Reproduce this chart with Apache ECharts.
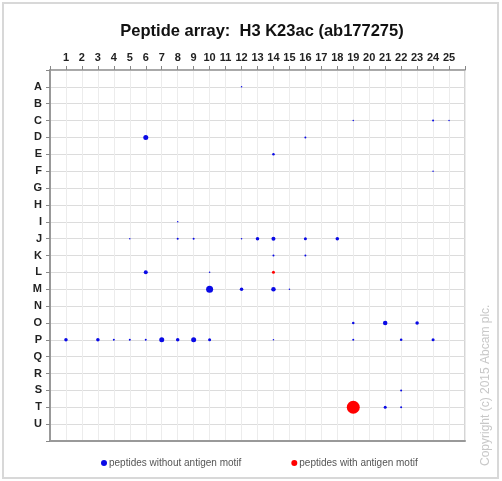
<!DOCTYPE html>
<html>
<head>
<meta charset="utf-8">
<script src="https://cdn.jsdelivr.net/npm/echarts@6/dist/echarts.min.js"></script>
<style>
  html, body { margin: 0; padding: 0; background: #fff; }
  #chart { width: 502px; height: 481px; }
</style>
</head>
<body>
<div id="chart"></div>
<script>
// rows of the array (A on top)
const rowLabels = ['A','B','C','D','E','F','G','H','I','J','K','L','M','N','O','P','Q','R','S','T','U'];
// columns 1..25
const colLabels = ['1','2','3','4','5','6','7','8','9','10','11','12','13','14','15','16','17','18','19','20','21','22','23','24','25'];

// [column, row, signal] - peptides without antigen motif
const withoutMotif = [
  [12,'A',1.5],
  [19,'C',1.5], [24,'C',2], [25,'C',1.5],
  [6,'D',5], [16,'D',2],
  [14,'E',2.5],
  [24,'F',1.5],
  [8,'I',1.5],
  [5,'J',1.5], [8,'J',2], [9,'J',2], [12,'J',1.5], [13,'J',3.5], [14,'J',4], [16,'J',3], [18,'J',3.5],
  [14,'K',2], [16,'K',2],
  [6,'L',4], [10,'L',1.5],
  [10,'M',7], [12,'M',3.5], [14,'M',4.5], [15,'M',1.5],
  [19,'O',2.5], [21,'O',4.5], [23,'O',3.5],
  [1,'P',3.5], [3,'P',3.5], [4,'P',2], [5,'P',2], [6,'P',2], [7,'P',5], [8,'P',3.5], [9,'P',5], [10,'P',3], [14,'P',1.5],
  [19,'P',2], [22,'P',2.5], [24,'P',3],
  [22,'S',2],
  [21,'T',3], [22,'T',2]
];
// [column, row, signal] - peptides with antigen motif
const withMotif = [
  [14,'L',3],
  [19,'T',13]
];

function toPoint(p) {
  return [p[0], rowLabels.indexOf(p[1]) + 1, p[2]];
}

const chart = echarts.init(document.getElementById('chart'));
chart.setOption({
  animation: false,
  backgroundColor: '#fff',
  title: {
    text: 'Peptide array:  H3 K23ac (ab177275)',
    left: 257,
    textAlign: 'center',
    top: 18,
    textStyle: {
      fontFamily: 'Liberation Sans',
      fontSize: 16.5,
      fontWeight: 'bold',
      color: '#111'
    }
  },
  legend: {
    left: 96,
    top: 453,
    itemGap: 50,
    itemWidth: 6,
    itemHeight: 6,
    icon: 'circle',
    textStyle: { fontFamily: 'Liberation Sans', fontSize: 10, color: '#555', padding: [0, 0, 0, -3] },
    data: ['peptides without antigen motif', 'peptides with antigen motif']
  },
  grid: {
    left: 50,
    top: 70,
    right: 37,
    bottom: 40,
    show: true,
    borderColor: '#aaa',
    borderWidth: 1
  },
  xAxis: [
    {
      type: 'value',
      position: 'top',
      min: 0,
      max: 26,
      interval: 1,
      axisLine: { show: true, lineStyle: { color: '#999', width: 1.5 } },
      axisTick: { show: true, length: 4, lineStyle: { color: '#888' } },
      axisLabel: {
        margin: 7,
        fontFamily: 'Liberation Sans',
        fontSize: 11,
        fontWeight: 'bold',
        color: '#222',
        formatter: v => (v >= 1 && v <= 25 ? colLabels[v - 1] : '')
      },
      splitLine: { show: true, lineStyle: { color: '#ececec' } }
    },
    {
      type: 'value',
      position: 'bottom',
      min: 0,
      max: 26,
      axisLine: { show: true, lineStyle: { color: '#999', width: 2 } },
      axisTick: { show: false },
      axisLabel: { show: false },
      splitLine: { show: false }
    }
  ],
  yAxis: {
    type: 'value',
    inverse: true,
    min: 0,
    max: 22,
    interval: 1,
    axisLine: { show: true, lineStyle: { color: '#999', width: 2 } },
    axisTick: { show: true, length: 4, lineStyle: { color: '#888' } },
    axisLabel: {
      margin: 8,
      fontFamily: 'Liberation Sans',
      fontSize: 11,
      fontWeight: 'bold',
      color: '#222',
      formatter: v => (v >= 1 && v <= 21 ? rowLabels[v - 1] : '')
    },
    splitLine: { show: true, lineStyle: { color: '#dcdcdc' } }
  },
  series: [
    {
      name: 'peptides without antigen motif',
      type: 'scatter',
      symbol: 'circle',
      itemStyle: { color: '#0a0ae6', opacity: 1 },
      symbolSize: d => d[2],
      data: withoutMotif.map(toPoint)
    },
    {
      name: 'peptides with antigen motif',
      type: 'scatter',
      symbol: 'circle',
      itemStyle: { color: '#ff0000', opacity: 1 },
      symbolSize: d => d[2],
      data: withMotif.map(toPoint)
    }
  ],
  graphic: [
    {
      type: 'rect',
      shape: { x: 3, y: 3, width: 495, height: 475 },
      style: { fill: 'none', stroke: '#d8d8d8', lineWidth: 2 },
      silent: true
    },
    {
      type: 'text',
      x: 480,
      y: 466,
      rotation: Math.PI / 2,
      style: {
        text: 'Copyright (c) 2015 Abcam plc.',
        fontFamily: 'Liberation Sans',
        fontSize: 12,
        fill: '#c8c8c8'
      },
      silent: true
    }
  ]
});
</script>
</body>
</html>
